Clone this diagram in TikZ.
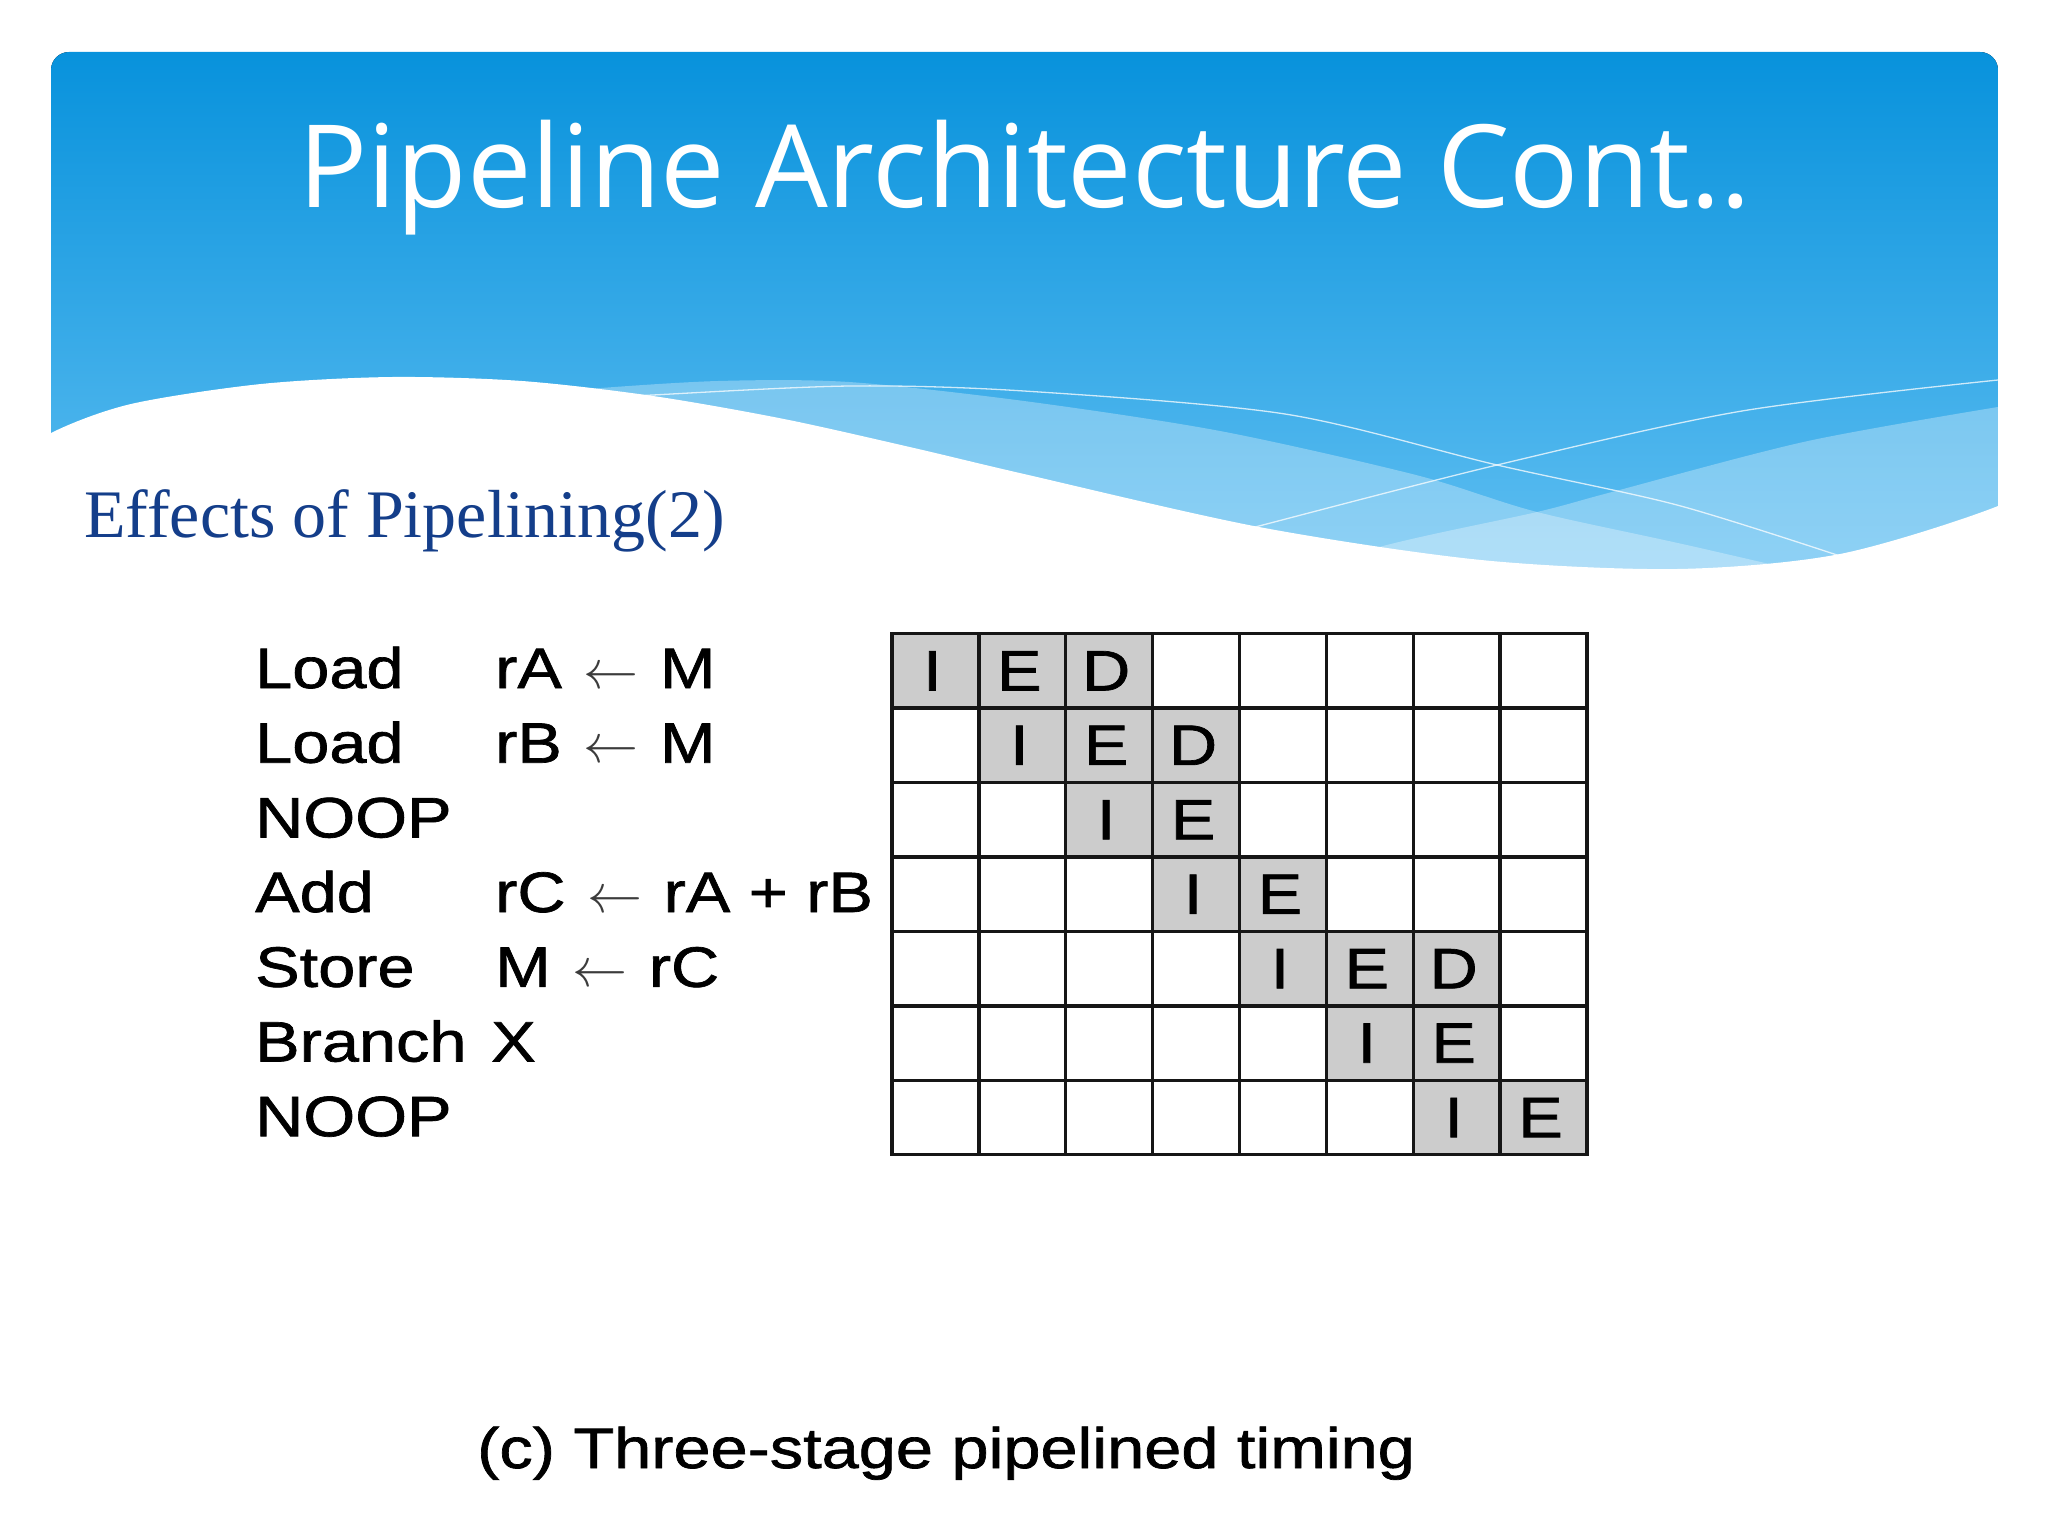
\documentclass[tikz,border=0pt]{standalone}
\usepackage{graphicx}
\usepackage{fontspec}
\newfontfamily\titlefont{Open Sans}
\newfontfamily\subfont{Liberation Serif}
\newfontfamily\arialw[FakeStretch=1.17,FakeBold=1.2]{Liberation Sans}
\newcommand{\lar}{\hspace{3pt}\resizebox{55pt}{!}{$\leftarrow$}\hspace{3pt}}
\definecolor{hdrtop}{RGB}{8,146,220}
\definecolor{hdrbot}{RGB}{110,198,245}
\definecolor{subblue}{RGB}{20,62,138}
\definecolor{cellshade}{RGB}{204,204,204}
\definecolor{gridc}{RGB}{22,22,22}
\definecolor{arrowc}{RGB}{60,60,60}
\tikzset{
  body/.style={font=\arialw\fontsize{57}{60}\selectfont, inner sep=0pt, anchor=base west, text=black},
  cellbox/.style={draw=gridc, line width=3.3pt, minimum width=86.875pt, minimum height=74.46pt, inner sep=0pt, outer sep=0pt},
  stagelbl/.style={font=\arialw\fontsize{57}{60}\selectfont, inner sep=0pt, xshift=-3pt},
  thinline/.style={draw=white, draw opacity=0.75, line width=1.3pt},
  band/.style={fill=white, fill opacity=0.3},
}
\begin{document}
\begin{tikzpicture}[x=1pt,y=-1pt]
\useasboundingbox (0,0) rectangle (2048,1536);
\fill[white] (0,0) rectangle (2048,1536);
% header
\begin{scope}
  \clip[rounded corners=18pt] (51,52) rectangle (1998,660);
  \fill[top color=hdrtop, bottom color=hdrbot] (51,52) rectangle (1998,660);
  \fill[band] plot[smooth] coordinates {(540,395) (588,389) (718,381) (849,382) (1024,401) (1220,431) (1416,475) (1537,512) (1700,548) (2010,620)} -- (2010,700) -- (540,700) -- cycle;
  \fill[band] plot[smooth] coordinates {(2010,405) (1808,441) (1612,492) (1537,512) (1383,546) (1200,600)} -- (1200,700) -- (2010,700) -- cycle;
  \draw[thinline] plot[smooth] coordinates {(600,399) (653,395) (850,386) (1024,391) (1285,414) (1497,465) (1677,505) (1840,556)};
  \draw[thinline] plot[smooth] coordinates {(1240,532) (1259,526) (1497,465) (1742,411) (1998,380)};
\end{scope}
\fill[white] plot[smooth] coordinates {(0,470) (51,433) (131,404) (261,384) (392,377) (522,381) (653,396) (784,419) (914,448) (1024,474) (1259,527) (1481,560) (1677,569) (1840,554) (1998,506) (2048,470)} -- (2048,700) -- (0,700) -- cycle;
\node[font=\titlefont\fontsize{115}{130}\selectfont, text=white, anchor=base, inner sep=0pt] (title) at (1025,207) {Pipeline Architecture Cont..};
\node[font=\subfont\fontsize{68}{80}\selectfont, text=subblue, anchor=base west, inner sep=0pt] (sub) at (84,537) {Effects of Pipelining(2)};
% instruction list
\node[body] (op1) at (255,688) {Load};
\node[body] (op2) at (255,762.7) {Load};
\node[body] (op3) at (255,837.4) {NOOP};
\node[body] (op4) at (255,912) {Add};
\node[body] (op5) at (255,986.8) {Store};
\node[body] (op6) at (255,1061.5) {Branch};
\node[body] (op7) at (255,1136.2) {NOOP};
\node[body] (arg1) at (495,688) {rA \textcolor{arrowc}{\lar} M};
\node[body] (arg2) at (495,762.7) {rB \textcolor{arrowc}{\lar} M};
\node[body] (arg4) at (495,912) {rC \textcolor{arrowc}{\lar} rA + rB};
\node[body] (arg5) at (495,986.8) {M \textcolor{arrowc}{\lar} rC};
\node[body] (arg6) at (491,1061.5) {X};
% timing grid
\foreach \r/\c in {1/1,1/2,1/3,2/2,2/3,2/4,3/3,3/4,4/4,4/5,5/5,5/6,5/7,6/6,6/7,7/7,7/8}
  \fill[cellshade] ({892+(\c-1)*86.875},{633.6+(\r-1)*74.46}) rectangle ++(86.875,74.46);
\foreach \r in {1,...,7}
  \foreach \c in {1,...,8}
    \node[cellbox] (g\r-\c) at ({892+(\c-0.5)*86.875},{633.6+(\r-0.5)*74.46}) {};
\foreach \r/\c/\t in {1/1/I,1/2/E,1/3/D,2/2/I,2/3/E,2/4/D,3/3/I,3/4/E,4/4/I,4/5/E,5/5/I,5/6/E,5/7/D,6/6/I,6/7/E,7/7/I,7/8/E}
  \node[stagelbl] (l\r-\c) at (g\r-\c) {\t};
\node[body] (cap) at (477,1468) {(c) Three-stage pipelined timing};
\end{tikzpicture}
\end{document}
